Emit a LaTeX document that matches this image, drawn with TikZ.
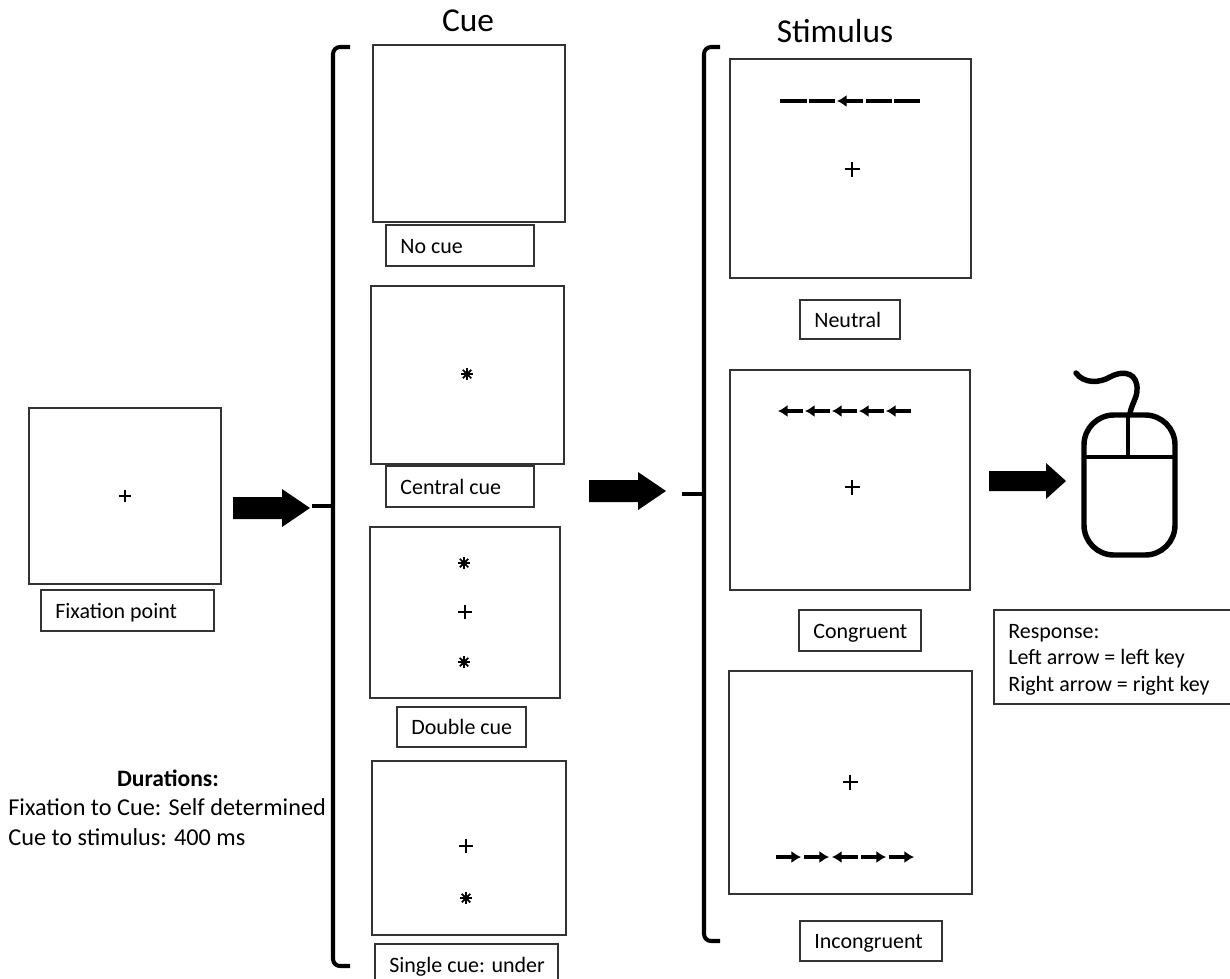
\documentclass[tikz,border=0pt]{standalone}
\usepackage{fontspec}
\setmainfont{Carlito}
\usetikzlibrary{arrows.meta}
\def\fixcross(#1,#2)(#3){\draw[crossline] (#1-#3,#2) -- (#1+#3,#2) (#1,#2-#3) -- (#1,#2+#3);}
\def\cuestar(#1,#2){\foreach \ang in {0,45,...,135} \draw[starline] (#1,#2)++(\ang:6) -- (#1,#2) -- ++(\ang+180:6); \fill (#1,#2) circle (3);}
\def\blockarrow(#1,#2)(#3:#4:#5){\fill (#1,#2-#5) -- (#1+#3,#2-#5) -- (#1+#3,#2-#5-8) -- (#1+#4,#2) -- (#1+#3,#2+#5+8) -- (#1+#3,#2+#5) -- (#1,#2+#5) -- cycle;}
\tikzset{
	boxline/.style={line width=1.1pt, color=black!80},
	crossline/.style={line width=1.4pt},
	starline/.style={line width=1pt},
	flankline/.style={line width=2.1pt},
	flankleft/.style={flankline, {Latex[length=5.5pt,width=7pt]}-},
	flankright/.style={flankline, -{Latex[length=5.5pt,width=7pt]}},
	bracketline/.style={line width=2.3pt, rounded corners=4pt},
	stubline/.style={line width=2pt},
	labeltext/.style={font=\fontsize{12.5}{15}\selectfont, inner sep=0pt, anchor=base west},
	durtext/.style={font=\fontsize{13.8}{16}\selectfont, inner sep=0pt, anchor=base west},
	titletext/.style={font=\fontsize{19}{22}\selectfont, inner sep=0pt, anchor=base}
}
\begin{document}
\begin{tikzpicture}[x=0.02cm, y=-0.02cm]
		\useasboundingbox (0, 0) rectangle (1230, 978);
		\clip (0, 0) rectangle (1230, 978);
		\fill[white] (0, 0) rectangle (1230, 978);
		
		% fixation
		\draw[boxline] (29, 408) rectangle (221, 584);
		\fixcross(125,496)(6)
		\draw[boxline] (41, 590) rectangle (214, 631);
		\node[labeltext] (fixlabel) at (55, 618) {Fixation point};
		
		\node[durtext, anchor=base, font=\fontsize{13.4}{16}\selectfont\bfseries] (durhead) at (168, 786) {Durations:};
		\node[durtext] (durfix) at (8, 815) {Fixation to Cue: Self determined};
		\node[durtext] (durcue) at (8, 845) {Cue to stimulus: 400 ms};
		
		\blockarrow(233,508)(49:77:11)
		
		% cue bracket
		\draw[bracketline] (350, 47) -- (333, 47) -- (333, 966) -- (350, 966);
		\draw[stubline] (312, 506) -- (333, 506);
		
		\node[titletext] (cuetitle) at (468, 31) {Cue};
		
		\draw[boxline] (373, 45) rectangle (565, 222);
		\draw[boxline] (386, 225) rectangle (534, 266);
		\node[labeltext] (nocue) at (400, 253) {No cue};
		
		\draw[boxline] (371, 286) rectangle (564, 464);
		\cuestar(467,374)
		\draw[boxline] (386, 466) rectangle (534, 507);
		\node[labeltext] (centralcue) at (400, 494) {Central cue};
		
		\draw[boxline] (370, 527) rectangle (560, 698);
		\cuestar(464,563)
		\fixcross(465,612)(7)
		\cuestar(464,662)
		\draw[boxline] (397, 707) rectangle (526, 747);
		\node[labeltext] (doublecue) at (411, 734) {Double cue};
		
		\draw[boxline] (372, 761) rectangle (566, 935);
		\fixcross(466,846)(7)
		\cuestar(466,898)
		\draw[boxline] (375, 944) rectangle (558, 990);
		\node[labeltext] (singlecue) at (389, 972) {Single cue: under};
		
		\blockarrow(589,491)(49:77:11)
		
		% stimulus bracket
		\draw[bracketline] (720, 47) -- (704, 47) -- (704, 941) -- (720, 941);
		\draw[stubline] (682, 494) -- (704, 494);
		
		\node[titletext] (stimtitle) at (835, 42) {Stimulus};
		
		\draw[boxline] (730, 59) rectangle (971, 278);
		\foreach \xa/\xb in {780/807, 809/835, 866/892, 894/920}
			\draw[flankline] (\xa, 101) -- (\xb, 101);
		\draw[flankleft] (837, 101) -- (863, 101);
		\fixcross(852,169)(7.5)
		\draw[boxline] (800, 300) rectangle (900, 339);
		\node[labeltext] (neutral) at (814, 327) {Neutral};
		
		\draw[boxline] (730, 370) rectangle (970, 590);
		\foreach \xa in {778, 805, 832, 859, 886}
			\draw[flankleft] (\xa, 411) -- (\xa+25, 411);
		\fixcross(852,487)(7.5)
		\draw[boxline] (799, 610) rectangle (921, 651);
		\node[labeltext] (congruent) at (813, 638) {Congruent};
		
		\draw[boxline] (729, 671) rectangle (972, 894);
		\fixcross(850,782)(7.5)
		\foreach \xa in {776, 804, 861, 889}
			\draw[flankright] (\xa, 857) -- (\xa+25, 857);
		\draw[flankleft] (832, 857) -- (858, 857);
		\draw[boxline] (800, 921) rectangle (942, 961);
		\node[labeltext] (incongruent) at (814, 948) {Incongruent};
		
		\blockarrow(989,481)(57:77:10)
		
		% mouse
		\draw[line width=3.1pt, rounded corners=17pt] (1084, 415) rectangle (1175, 555);
		\draw[line width=2pt] (1084, 457) -- (1175, 457);
		\draw[line width=2.4pt] (1128, 415) -- (1128, 457);
		\draw[line width=3.1pt, line cap=round] (1076, 373) .. controls (1084, 384) and (1100, 383) .. (1110, 377) .. controls (1125, 369) and (1138, 374) .. (1137, 390) .. controls (1137, 398) and (1131, 405) .. (1130, 414);
		
		% response
		\draw[boxline] (994, 610) rectangle (1235, 704);
		\node[labeltext] (resphead) at (1008, 638) {Response:};
		\node[labeltext] (respleft) at (1008, 664) {Left arrow = left key};
		\node[labeltext] (respright) at (1008, 691) {Right arrow = right key};
	\end{tikzpicture}
\end{document}
